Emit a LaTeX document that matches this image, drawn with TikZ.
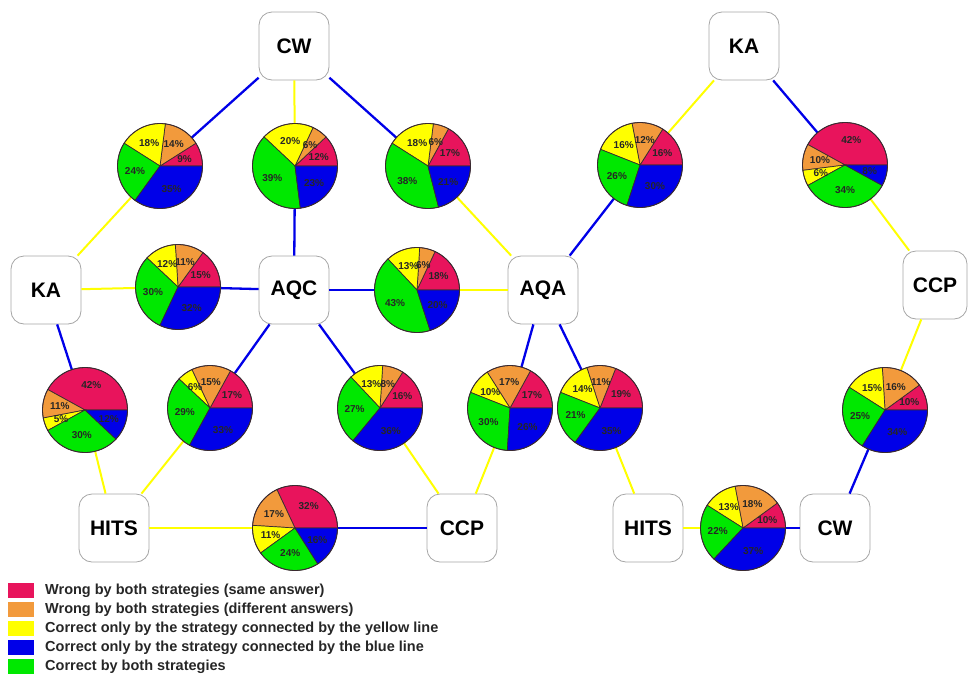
\documentclass[tikz,border=0pt]{standalone}
\usepackage{fontspec}
\setmainfont{Liberation Sans}
\definecolor{cRed}{HTML}{E8145C}
\definecolor{cOra}{HTML}{F29A3C}
\definecolor{cYel}{HTML}{FFFF00}
\definecolor{cBlu}{HTML}{0000E8}
\definecolor{cGrn}{HTML}{00E800}
\definecolor{pieedge}{HTML}{3A2A30}
\newcommand\R{42.5}
\newcommand\mypie[7]{% name, x, y, red, orange, yellow, green (blue = rest)
  \coordinate (#1) at (#2,#3);
  \begin{scope}[shift={(#2,#3)},y=1pt]
    \pgfmathsetmacro\pb{100-#4-#5-#6-#7}
    \xdef\cum{0}
    \foreach \p/\c in {#4/cRed,#5/cOra,#6/cYel,#7/cGrn,\pb/cBlu}{
      \pgfmathsetmacro\st{\cum*3.6}
      \pgfmathsetmacro\en{(\cum+\p)*3.6}
      \fill[\c,draw=pieedge,line width=0.7pt] (0,0) -- (\st:\R) arc[start angle=\st,end angle=\en,radius=\R] -- cycle;
      \pgfmathsetmacro\newcum{\cum+\p}
      \xdef\cum{\newcum}
    }
    \xdef\cum{0}
    \foreach \p in {#4,#5,#6,#7,\pb}{
      \pgfmathsetmacro\md{(\cum+\p/2)*3.6}
      \pgfmathtruncatemacro\pi{round(\p)}
      \node[pct] at (\md:0.6*\R) {\pi\%};
      \pgfmathsetmacro\newcum{\cum+\p}
      \xdef\cum{\newcum}
    }
    \draw[pieedge,line width=0.8pt] (0,0) circle[radius=\R];
  \end{scope}}
\begin{document}
\begin{tikzpicture}[x=1pt,y=-1pt,
  strat/.style={draw=gray!70,fill=white,rounded corners=13pt,line width=0.8pt,
    minimum width=70pt,minimum height=68pt,inner sep=0pt,
    font=\fontsize{21}{25}\selectfont\bfseries},
  pct/.style={font=\fontsize{10}{12}\selectfont\bfseries,inner sep=0pt,text=black!85},
  bl/.style={draw=cBlu,line width=2.3pt},
  yl/.style={draw=cYel,line width=2pt},
  legtxt/.style={anchor=west,font=\fontsize{14.5}{16}\selectfont\bfseries,text=black!85,inner sep=0pt}]
\useasboundingbox (0,0) rectangle (968,683);
% strategy nodes
\node[strat] (CW) at (294,46) {CW};
\node[strat] (KAr) at (744,46) {KA};
\node[strat] (KA) at (46,290) {KA};
\node[strat] (AQC) at (294,290) {AQC};
\node[strat] (AQA) at (543,290) {AQA};
\node[strat,minimum width=64pt] (CCPr) at (935,285) {CCP};
\node[strat] (HITS) at (114,528) {HITS};
\node[strat] (CCP) at (462,528) {CCP};
\node[strat] (HITSr) at (648,528) {HITS};
\node[strat] (CWr) at (835,528) {CW};
% pie centres
\coordinate (p1) at (160,166);
\coordinate (p2) at (295,166);
\coordinate (p3) at (428,166);
\coordinate (p4) at (178,287);
\coordinate (p5) at (417,290);
\coordinate (p6) at (85,410);
\coordinate (p7) at (210,408);
\coordinate (p8) at (380,408);
\coordinate (p9) at (295,528);
\coordinate (p10) at (510,408);
\coordinate (p11) at (600,408);
\coordinate (p12) at (640,165);
\coordinate (p13) at (845,165);
\coordinate (p14) at (885,410);
\coordinate (p15) at (743,528);
% connectors
\draw[bl] (CW) -- (p1); \draw[yl] (p1) -- (KA);
\draw[yl] (CW) -- (p2); \draw[bl] (p2) -- (AQC);
\draw[bl] (CW) -- (p3); \draw[yl] (p3) -- (AQA);
\draw[yl] (KA) -- (p4); \draw[bl] (p4) -- (AQC);
\draw[bl] (AQC) -- (p5); \draw[yl] (p5) -- (AQA);
\draw[bl] (KA) -- (p6); \draw[yl] (p6) -- (HITS);
\draw[bl] (AQC) -- (p7); \draw[yl] (p7) -- (HITS);
\draw[bl] (AQC) -- (p8); \draw[yl] (p8) -- (CCP);
\draw[yl] (HITS) -- (p9); \draw[bl] (p9) -- (CCP);
\draw[bl] (AQA) -- (p10); \draw[yl] (p10) -- (CCP);
\draw[bl] (AQA) -- (p11); \draw[yl] (p11) -- (HITSr);
\draw[yl] (KAr) -- (p12); \draw[bl] (p12) -- (AQA);
\draw[bl] (KAr) -- (p13); \draw[yl] (p13) -- (CCPr);
\draw[yl] (CCPr) -- (p14); \draw[bl] (p14) -- (CWr);
\draw[yl] (HITSr) -- (p15); \draw[bl] (p15) -- (CWr);
% pies
\mypie{q1}{160}{166}{9}{14}{18}{24}
\mypie{q2}{295}{166}{12}{6}{20}{39}
\mypie{q3}{428}{166}{17}{6}{18}{38}
\mypie{q4}{178}{287}{15}{11}{12}{30}
\mypie{q5}{417}{290}{18}{6}{13}{43}
\mypie{q6}{85}{410}{42}{11}{5}{30}
\mypie{q7}{210}{408}{17}{15}{6}{29}
\mypie{q8}{380}{408}{16}{8}{13}{27}
\mypie{q9}{295}{528}{32}{17}{11}{24}
\mypie{q10}{510}{408}{17}{17}{10}{30}
\mypie{q11}{600}{408}{19}{11}{14}{21}
\mypie{q12}{640}{165}{16}{12}{16}{26}
\mypie{q13}{845}{165}{42}{10}{6}{34}
\mypie{q14}{885}{410}{10}{16}{15}{25}
\mypie{q15}{743}{528}{10}{18}{13}{22}
% legend
\foreach \c/\t [count=\i from 0] in {cRed/Wrong by both strategies (same answer),
  cOra/Wrong by both strategies (different answers),
  cYel/Correct only by the strategy connected by the yellow line,
  cBlu/Correct only by the strategy connected by the blue line,
  cGrn/Correct by both strategies}{
  \fill[\c] (8,{583+19*\i}) rectangle (34,{598+19*\i});
  \node[legtxt] (leg\i) at (45,{590.5+19*\i}) {\t};
}
\end{tikzpicture}
\end{document}
